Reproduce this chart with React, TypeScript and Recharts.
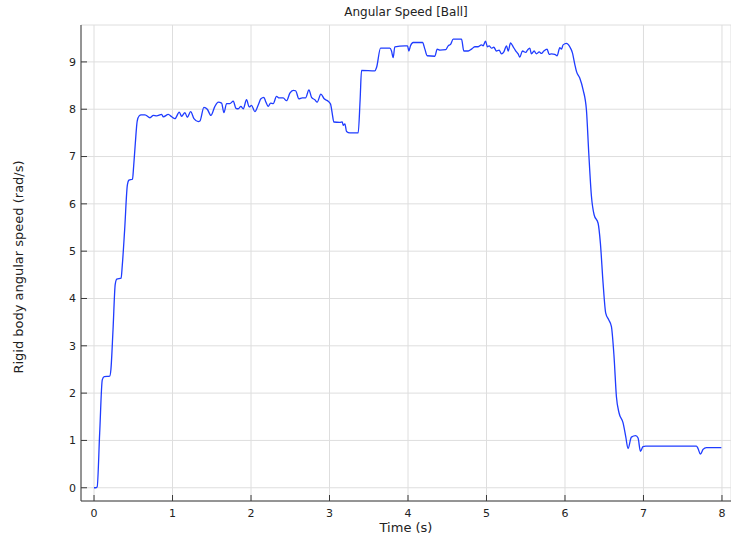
import { LineChart, Line, XAxis, YAxis, CartesianGrid } from "recharts";

const time = [
  0, 0.02, 0.04, 0.072, 0.105, 0.13, 0.2, 0.215, 0.242, 0.27, 0.29, 0.345,
  0.36, 0.39, 0.425, 0.445, 0.49, 0.505, 0.526, 0.55, 0.575, 0.6, 0.649,
  0.713, 0.756, 0.798, 0.861, 0.883, 0.946, 0.989, 1.031, 1.086, 1.116, 1.158,
  1.188, 1.231, 1.273, 1.328, 1.349, 1.4, 1.443, 1.489, 1.54, 1.583, 1.625,
  1.655, 1.689, 1.731, 1.774, 1.808, 1.837, 1.871, 1.901, 1.943, 1.977, 2.007,
  2.049, 2.092, 2.126, 2.164, 2.185, 2.219, 2.249, 2.283, 2.325, 2.359, 2.41,
  2.453, 2.495, 2.538, 2.568, 2.61, 2.653, 2.695, 2.738, 2.771, 2.813, 2.843,
  2.89, 2.932, 2.983, 3.013, 3.034, 3.055, 3.132, 3.162, 3.175, 3.196, 3.217,
  3.26, 3.365, 3.39, 3.408, 3.578, 3.599, 3.65, 3.768, 3.79, 3.811, 3.832,
  3.959, 3.994, 4.011, 4.032, 4.066, 4.185, 4.215, 4.245, 4.342, 4.372, 4.406,
  4.482, 4.512, 4.542, 4.576, 4.682, 4.711, 4.767, 4.809, 4.851, 4.894, 4.936,
  4.957, 4.987, 5.012, 5.034, 5.063, 5.093, 5.127, 5.161, 5.191, 5.221, 5.255,
  5.276, 5.306, 5.34, 5.382, 5.403, 5.424, 5.458, 5.5, 5.522, 5.551, 5.573,
  5.607, 5.637, 5.671, 5.701, 5.73, 5.772, 5.798, 5.828, 5.87, 5.9, 5.934,
  5.955, 5.976, 6.019, 6.061, 6.095, 6.125, 6.146, 6.188, 6.231, 6.273, 6.303,
  6.337, 6.371, 6.422, 6.451, 6.485, 6.519, 6.557, 6.591, 6.625, 6.655, 6.689,
  6.74, 6.774, 6.803, 6.846, 6.901, 6.931, 6.961, 6.994, 7.028, 7.674, 7.695,
  7.725, 7.759, 7.801, 7.992,
];

const speed = [
  0, 0, 0.02, 1.16, 2.28, 2.35, 2.36, 2.5, 3.34, 4.3, 4.41, 4.43, 4.7, 5.45,
  6.4, 6.5, 6.52, 6.8, 7.28, 7.75, 7.86, 7.88, 7.88, 7.82, 7.87, 7.86, 7.89,
  7.84, 7.89, 7.84, 7.8, 7.94, 7.85, 7.93, 7.83, 7.95, 7.8, 7.74, 7.75, 8.04,
  8.0, 7.87, 8.06, 8.15, 8.13, 7.93, 8.12, 8.12, 8.17, 8.02, 8.01, 8.06, 8.01,
  8.2, 8.05, 8.08, 7.95, 8.09, 8.22, 8.25, 8.17, 8.06, 8.13, 8.12, 8.27, 8.24,
  8.24, 8.18, 8.34, 8.4, 8.39, 8.22, 8.24, 8.24, 8.41, 8.25, 8.2, 8.15, 8.32,
  8.22, 8.17, 8.11, 7.92, 7.73, 7.72, 7.73, 7.66, 7.69, 7.53, 7.5, 7.5, 8.2,
  8.82, 8.81, 8.88, 9.29, 9.29, 9.23, 9.09, 9.32, 9.34, 9.34, 9.23, 9.34, 9.41,
  9.41, 9.27, 9.13, 9.12, 9.27, 9.25, 9.26, 9.34, 9.37, 9.48, 9.48, 9.23, 9.23,
  9.27, 9.32, 9.32, 9.36, 9.34, 9.44, 9.32, 9.34, 9.29, 9.31, 9.23, 9.25, 9.17,
  9.21, 9.34, 9.23, 9.4, 9.32, 9.21, 9.17, 9.1, 9.23, 9.2, 9.25, 9.29, 9.17,
  9.23, 9.17, 9.21, 9.18, 9.23, 9.27, 9.16, 9.17, 9.16, 9.13, 9.3, 9.27, 9.36,
  9.39, 9.32, 9.19, 8.95, 8.8, 8.66, 8.41, 7.99, 7.07, 6.16, 5.77, 5.59, 5.17,
  4.33, 3.69, 3.55, 3.41, 2.77, 1.93, 1.58, 1.37, 1.08, 0.83, 1.07, 1.1, 1.05,
  0.77, 0.87, 0.88, 0.88, 0.83, 0.71, 0.81, 0.85, 0.85,
];

const xTicks = [0, 1, 2, 3, 4, 5, 6, 7, 8];
const yTicks = [0, 1, 2, 3, 4, 5, 6, 7, 8, 9];

const data = time.map((t, i) => ({ t, w: speed[i] }));

const font = "'DejaVu Sans', sans-serif";
const frame = "#3a3a3a";
const tickStyle = { fontSize: 11, fontFamily: font, fill: "#222" };

export default function App() {
  return (
    <div
      style={{
        position: "absolute",
        left: 0,
        top: 0,
        width: 731,
        height: 539,
        background: "#fff",
        fontFamily: font,
        color: "#222",
      }}
    >
      <div
        style={{
          position: "absolute",
          left: 81,
          width: 650,
          top: 4,
          textAlign: "center",
          fontSize: 12,
          lineHeight: "16px",
        }}
      >
        Angular Speed [Ball]
      </div>
      <div
        style={{
          position: "absolute",
          left: 81,
          width: 650,
          top: 519,
          textAlign: "center",
          fontSize: 13,
          lineHeight: "17px",
        }}
      >
        Time (s)
      </div>
      <div
        style={{
          position: "absolute",
          left: 19 - 150,
          width: 300,
          top: 267 - 8,
          textAlign: "center",
          fontSize: 13,
          lineHeight: "16px",
          transform: "rotate(-90deg)",
        }}
      >
        Rigid body angular speed (rad/s)
      </div>
      <div style={{ position: "absolute", left: 0, top: 0 }}>
        <LineChart
          width={731}
          height={539}
          data={data}
          margin={{ top: 25, right: 0, bottom: 0, left: 0 }}
        >
          <CartesianGrid stroke="#dedede" strokeWidth={1} />
          <XAxis
            type="number"
            dataKey="t"
            domain={[-0.166, 8.115]}
            allowDataOverflow
            ticks={xTicks}
            height={38}
            tickSize={-6}
            tickMargin={14}
            stroke={frame}
            tick={tickStyle}
            interval={0}
          />
          <XAxis
            xAxisId="top"
            orientation="top"
            type="number"
            dataKey="t"
            domain={[-0.166, 8.115]}
            allowDataOverflow
            ticks={xTicks}
            height={0}
            tickSize={-6}
            tick={false}
            stroke={frame}
          />
          <YAxis
            type="number"
            domain={[-0.28, 9.78]}
            allowDataOverflow
            ticks={yTicks}
            width={81}
            tickSize={-6}
            tickMargin={11}
            stroke={frame}
            tick={tickStyle}
            interval={0}
          />
          <YAxis
            yAxisId="right"
            orientation="right"
            type="number"
            domain={[-0.28, 9.78]}
            allowDataOverflow
            ticks={yTicks}
            width={0}
            tickSize={-5}
            tick={false}
            stroke={frame}
          />
          <Line
            type="monotone"
            dataKey="w"
            stroke="#1f3cff"
            strokeWidth={1.3}
            dot={false}
            isAnimationActive={false}
          />
        </LineChart>
      </div>
    </div>
  );
}
